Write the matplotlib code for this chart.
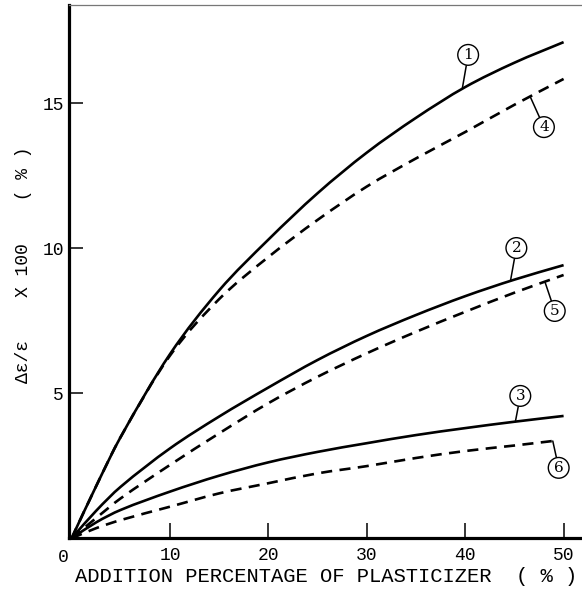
import matplotlib
matplotlib.use("Agg")
import matplotlib.pyplot as plt
from matplotlib.path import Path
from matplotlib.patches import PathPatch
import numpy as np

# Plasticizer addition (%) and relative change of permittivity (x100, %)
x = [0, 2.5, 5, 10, 15, 20, 25, 30, 35, 40, 45, 50]
x6 = [0, 2.5, 5, 10, 15, 20, 25, 30, 35, 40, 45, 49]
curve1 = [0, 1.8, 3.5, 6.35, 8.55, 10.3, 11.9, 13.3, 14.5, 15.56, 16.4, 17.11]
curve2 = [0, 0.95, 1.78, 3.1, 4.2, 5.2, 6.15, 6.98, 7.7, 8.35, 8.92, 9.42]
curve3 = [0, 0.55, 0.98, 1.61, 2.16, 2.62, 2.98, 3.28, 3.56, 3.8, 4.02, 4.22]
curve4 = [0, 1.8, 3.5, 6.3, 8.25, 9.7, 10.98, 12.13, 13.1, 14.01, 14.95, 15.84]
curve5 = [0, 0.7, 1.38, 2.53, 3.62, 4.66, 5.57, 6.38, 7.12, 7.81, 8.47, 9.08]
curve6 = [0, 0.35, 0.63, 1.09, 1.55, 1.9, 2.24, 2.49, 2.77, 3.01, 3.2, 3.36]

xticks = [10, 20, 30, 40, 50]
yticks = [5, 10, 15]

mono = "Liberation Mono"


def smooth_path(xs, ys):
    """Cubic Bezier path through the points (Catmull-Rom tangents)."""
    p = np.column_stack([xs, ys]).astype(float)
    n = len(p)
    verts = [p[0]]
    codes = [Path.MOVETO]
    for i in range(n - 1):
        p0 = p[i - 1] if i > 0 else p[i]
        p3 = p[i + 2] if i + 2 < n else p[i + 1]
        h = p[i + 1][0] - p[i][0]
        t1 = (p[i + 1] - p0) / (p[i + 1][0] - p0[0]) * h
        t2 = (p3 - p[i]) / (p3[0] - p[i][0]) * h
        verts += [p[i] + t1 / 3, p[i + 1] - t2 / 3, p[i + 1]]
        codes += [Path.CURVE4] * 3
    return Path(verts, codes)


fig = plt.figure(figsize=(5.82, 5.90), dpi=100)
ax = fig.add_axes([0.1194, 0.0876, 1 - 0.1194, 0.9915 - 0.0876])
ax.set_xlim(-0.21, 51.87)
ax.set_ylim(0, 18.39)

lw = 1.9
solid = dict(edgecolor="black", fill=False, lw=lw, capstyle="butt")
dashed = dict(edgecolor="black", fill=False, lw=lw, capstyle="butt",
              linestyle=(0, (4.2, 2.8)))

for xs, ys, style in [(x, curve1, solid), (x, curve2, solid), (x, curve3, solid),
                      (x, curve4, dashed), (x, curve5, dashed), (x6, curve6, dashed)]:
    ax.add_patch(PathPatch(smooth_path(xs, ys), **style))

# Circled curve numbers with leader lines
labels = [
    ("1", x, curve1, 39.7, (40.3, 16.67)),
    ("4", x, curve4, 46.6, (48.0, 14.18)),
    ("2", x, curve2, 44.6, (45.2, 10.01)),
    ("5", x, curve5, 48.1, (49.1, 7.84)),
    ("3", x, curve3, 45.1, (45.6, 4.91)),
    ("6", x6, curve6, 48.9, (49.5, 2.43)),
]
for text, xs, ys, xa, pos in labels:
    ya = float(np.interp(xa, xs, ys))
    ax.annotate(text, xy=(xa, ya), xytext=pos, ha="center", va="center",
                fontsize=11, family="DejaVu Serif",
                bbox=dict(boxstyle="circle,pad=0.22", fc="white", ec="black", lw=1.0),
                arrowprops=dict(arrowstyle="-", lw=1.1, color="black",
                                shrinkA=0, shrinkB=0))

# Axes frame
for side in ("left", "bottom"):
    ax.spines[side].set_linewidth(2.3)
ax.spines["right"].set_visible(False)
ax.spines["top"].set_color("#777777")
ax.spines["top"].set_linewidth(0.9)

ax.set_xticks(xticks)
ax.set_yticks(yticks)
ax.set_xticklabels([str(v) for v in xticks], family=mono, fontsize=13)
ax.set_yticklabels([str(v) for v in yticks], family=mono, fontsize=13)
ax.tick_params(axis="x", direction="in", length=10.5, width=1.1, pad=6)
ax.tick_params(axis="y", direction="in", length=10, width=1.1, pad=4)

ax.annotate("0", xy=(0, 0), xycoords=("data", "axes fraction"),
            xytext=(-6, -6 - 7.5), textcoords="offset points",
            ha="center", va="center", family=mono, fontsize=13)

fig.text(75 / 582, 1 - 577 / 590, "ADDITION PERCENTAGE OF PLASTICIZER  ( % )",
         ha="left", va="center", family=mono, fontsize=14.8)
fig.text(24 / 582, 1 - 265 / 590, "Δε/ε    X 100    ( % )",
         rotation=90, ha="center", va="center", family=mono, fontsize=13)

fig.savefig("out.png", dpi=100)
